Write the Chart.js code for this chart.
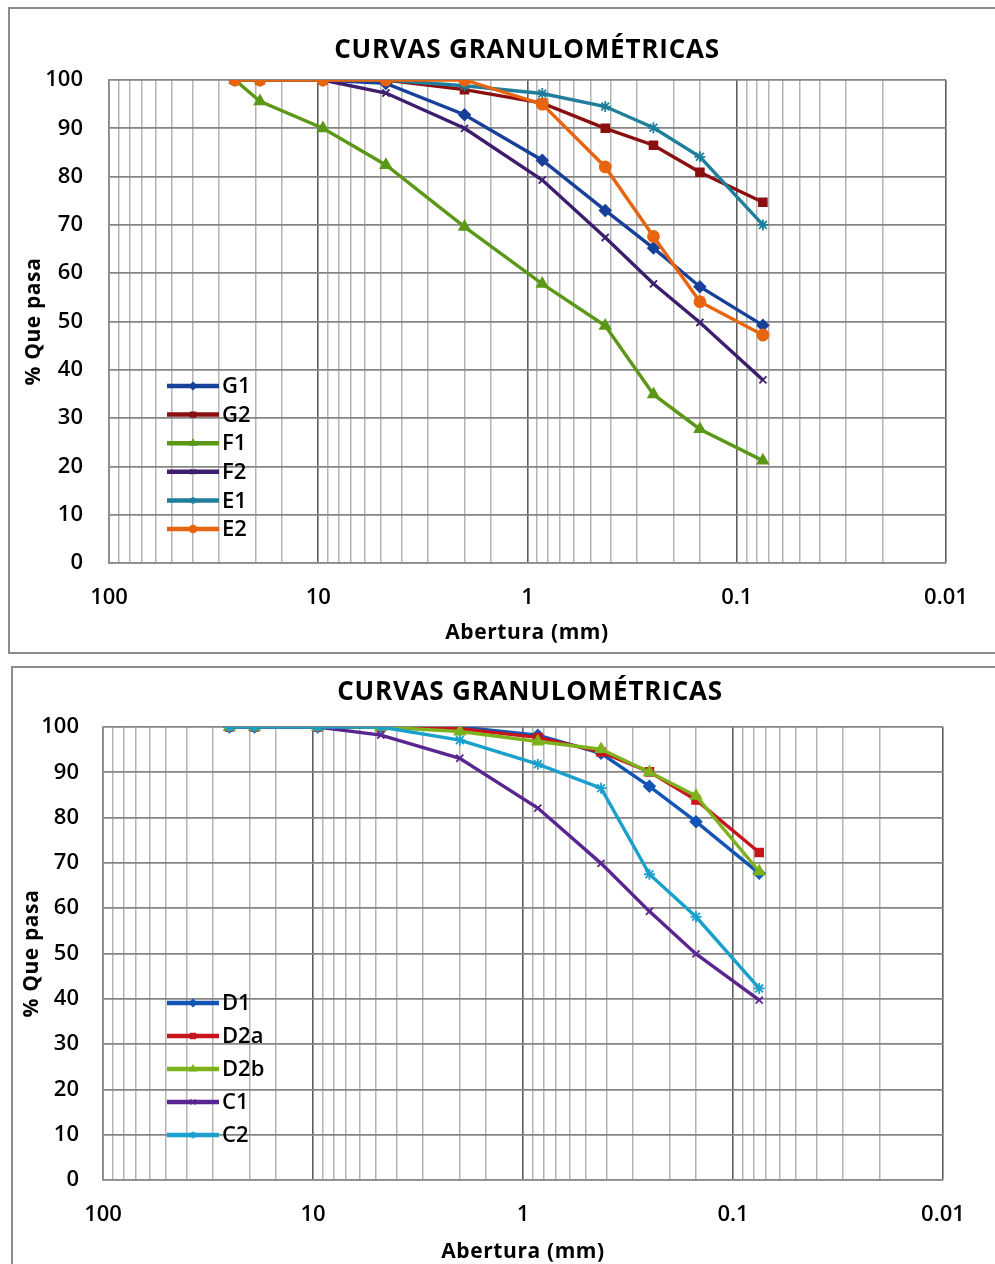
<!DOCTYPE html>
<html>
<head>
<meta charset="utf-8">
<script src="https://cdn.jsdelivr.net/npm/chart.js@4.4.1/dist/chart.umd.min.js"></script>
<style>
  html, body { margin: 0; padding: 0; background: #fff; overflow: hidden; width: 995px; height: 1264px; }
  .frame { position: absolute; border: 2px solid #8c8c8c; box-sizing: border-box; }
  canvas { position: absolute; left: 0; }
</style>
</head>
<body>
<div class="frame" style="left:8px; top:7px; width:1000px; height:647px;"></div>
<div class="frame" style="left:11px; top:666px; width:1000px; height:700px;"></div>
<canvas id="c1" width="995" height="655" style="top:0px"></canvas>
<canvas id="c2" width="995" height="604" style="top:660px"></canvas>
<script>
// ---- DATA ----
const chartTitle = 'CURVAS GRANULOMÉTRICAS';
const xAxisTitle = 'Abertura (mm)';
const yAxisTitle = '% Que pasa';
const xDecades = [100, 10, 1, 0.1, 0.01];
const xTickLabels = ['100', '10', '1', '0.1', '0.01'];
const sieveSizes = [25, 19, 9.5, 4.75, 2.0, 0.85, 0.425, 0.25, 0.15, 0.075];

// Chart 1
const namesTop = ['G1', 'G2', 'F1', 'F2', 'E1', 'E2'];
const G1 = [100, 100, 100, 99.3, 92.8, 83.4, 73.0, 65.2, 57.2, 49.2];
const G2 = [100, 100, 100, 100, 98.0, 95.2, 90.0, 86.5, 80.9, 74.7];
const F1 = [100, 95.6, 90.0, 82.4, 69.6, 57.8, 49.1, 34.9, 27.7, 21.2];
const F2 = [100, 100, 100, 97.3, 90.0, 79.3, 67.4, 57.8, 49.8, 37.9];
const E1 = [100, 100, 100, 100, 98.8, 97.2, 94.5, 90.1, 84.1, 70.0];
const E2 = [100, 100, 100, 100, 100, 95.0, 82.0, 67.6, 54.1, 47.2];

// Chart 2
const namesBottom = ['D1', 'D2a', 'D2b', 'C1', 'C2'];
const D1  = [100, 100, 100, 100, 100, 98.2, 94.2, 86.9, 79.1, 67.7];
const D2a = [100, 100, 100, 100, 99.6, 97.7, 94.5, 90.1, 83.9, 72.3];
const D2b = [100, 100, 100, 100, 99.0, 96.8, 95.1, 90.0, 84.8, 68.1];
const C1  = [100, 100, 100, 98.2, 93.1, 82.1, 69.9, 59.3, 49.9, 39.7];
const C2  = [100, 100, 100, 100, 97.1, 91.8, 86.5, 67.5, 58.1, 42.3];

// ---- STYLES ----
const stylesTop = [
  { color: '#17409A', point: 'rectRot', r: 5.5 },
  { color: '#8B0F0F', point: 'rect', r: 5.5 },
  { color: '#5B9818', point: 'triangle', r: 6 },
  { color: '#3D1E6E', point: 'crossRot', r: 5 },
  { color: '#1F7E9C', point: 'star', r: 5.5 },
  { color: '#E8650F', point: 'circle', r: 5.5 }
];
const stylesBottom = [
  { color: '#1255B5', point: 'rectRot', r: 5.5 },
  { color: '#C8141C', point: 'rect', r: 5.5 },
  { color: '#7DB21C', point: 'triangle', r: 6 },
  { color: '#5A2590', point: 'crossRot', r: 5 },
  { color: '#1AA0CC', point: 'star', r: 5.5 }
];

function toPoints(vals) { return sieveSizes.map((s, i) => ({ x: s, y: vals[i] })); }

function makeDatasets(names, series, styles) {
  return names.map((n, i) => ({
    label: n,
    data: toPoints(series[i]),
    borderColor: styles[i].color,
    backgroundColor: styles[i].color,
    pointBackgroundColor: styles[i].color,
    pointBorderColor: styles[i].color,
    pointStyle: styles[i].point,
    pointRadius: styles[i].r,
    pointBorderWidth: 1.8,
    borderWidth: 3.4,
    tension: 0,
    order: names.length - i
  }));
}

function isDecade(v) {
  const l = Math.log10(v);
  return Math.abs(l - Math.round(l)) < 1e-6;
}

const decorPlugin = {
  id: 'decor',
  afterDraw(chart, args, o) {
    const { ctx, chartArea } = chart;
    ctx.save();
    ctx.fillStyle = '#000';
    ctx.textAlign = 'center';
    ctx.textBaseline = 'middle';
    // chart title
    ctx.font = 'bold 26px "Open Sans"';
    try { ctx.letterSpacing = '0.8px'; } catch (e) {}
    ctx.fillText(chartTitle, o.titleX, o.titleY);
    // x axis title
    ctx.font = 'bold 21px "Open Sans"';
    try { ctx.letterSpacing = '0.6px'; } catch (e) {}
    ctx.fillText(xAxisTitle, o.xTitleX, o.xTitleY);
    // y axis title
    ctx.save();
    ctx.translate(o.yTitleX, (chartArea.top + chartArea.bottom) / 2);
    ctx.rotate(-Math.PI / 2);
    ctx.fillText(yAxisTitle, 0, 0);
    ctx.restore();
    try { ctx.letterSpacing = '0px'; } catch (e) {}
    // legend
    const x0 = chartArea.left + o.legX;
    ctx.font = '600 22px "Open Sans"';
    ctx.textAlign = 'left';
    chart.data.datasets.forEach((ds, i) => {
      const y = o.legY + i * o.legStep;
      ctx.strokeStyle = ds.borderColor;
      ctx.lineWidth = 4.5;
      ctx.beginPath();
      ctx.moveTo(x0, y);
      ctx.lineTo(x0 + 52, y);
      ctx.stroke();
      ctx.fillStyle = ds.borderColor;
      ctx.lineWidth = 1.5;
      Chart.helpers.drawPoint(ctx, { pointStyle: ds.pointStyle, radius: 3.5, rotation: 0, borderWidth: 1.5 }, x0 + 26, y);
      ctx.fillStyle = '#000';
      ctx.fillText(ds.label, x0 + 55, y + 1);
    });
    ctx.restore();
  }
};

function makeChart(id, datasets, geo) {
  return new Chart(document.getElementById(id), {
    type: 'line',
    data: { datasets },
    plugins: [decorPlugin],
    options: {
      responsive: false,
      animation: false,
      devicePixelRatio: 1,
      layout: { padding: { top: geo.top, right: geo.right, left: 0, bottom: 0 } },
      plugins: {
        legend: { display: false },
        title: { display: false },
        tooltip: { enabled: false },
        decor: geo.decor
      },
      scales: {
        x: {
          type: 'logarithmic',
          min: 0.01,
          max: 100,
          reverse: true,
          afterFit(s) { s.height = geo.xHeight; },
          border: { display: true, color: '#8c8c8c', width: 1.5 },
          grid: {
            drawTicks: false,
            color: c => (c.tick && isDecade(c.tick.value)) ? '#5e5e5e' : '#b4b4b4',
            lineWidth: c => (c.tick && isDecade(c.tick.value)) ? 1.6 : 1.5
          },
          ticks: {
            autoSkip: false,
            maxRotation: 0,
            padding: geo.xPad,
            color: '#000',
            font: { family: 'Open Sans', size: 22, weight: '600' },
            callback: (v) => {
              const idx = xDecades.findIndex(d => Math.abs(Math.log10(v) - Math.log10(d)) < 1e-6);
              return idx >= 0 ? xTickLabels[idx] : '';
            }
          }
        },
        y: {
          min: 0,
          max: 100,
          afterFit(s) { s.width = geo.yWidth; },
          border: { display: true, color: '#8c8c8c', width: 1.5 },
          grid: { drawTicks: false, color: '#858585', lineWidth: 1.7 },
          ticks: {
            stepSize: 10,
            padding: geo.yPad,
            color: '#000',
            font: { family: 'Open Sans', size: 22, weight: '600' }
          }
        }
      }
    }
  });
}

makeChart('c1', makeDatasets(namesTop, [G1, G2, F1, F2, E1, E2], stylesTop), {
  top: 80, right: 49, xHeight: 92, yWidth: 109, xPad: 22, yPad: 26,
  decor: { titleX: 527, titleY: 51, xTitleX: 527, xTitleY: 633, yTitleX: 34,
           legX: 58, legY: 386, legStep: 28.6 }
});

makeChart('c2', makeDatasets(namesBottom, [D1, D2a, D2b, C1, C2], stylesBottom), {
  top: 67, right: 52, xHeight: 84, yWidth: 103, xPad: 22, yPad: 24,
  decor: { titleX: 530, titleY: 33, xTitleX: 523, xTitleY: 592, yTitleX: 32,
           legX: 64, legY: 343, legStep: 33 }
});
</script>
</body>
</html>
